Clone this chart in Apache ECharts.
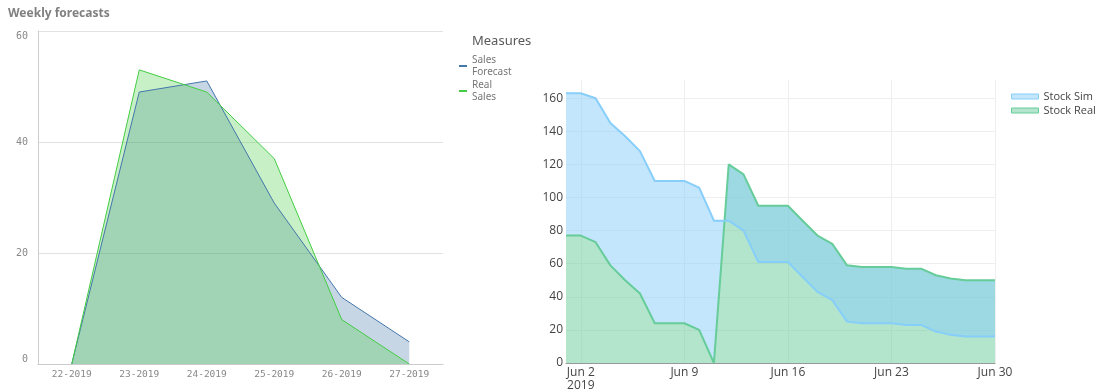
<!DOCTYPE html>
<html>
<head>
<meta charset="utf-8">
<script src="https://cdn.jsdelivr.net/npm/echarts@6/dist/echarts.min.js"></script>
<style>
html,body{margin:0;padding:0;background:#fff;}
#chart{width:1099px;height:392px;}
</style>
</head>
<body>
<div id="chart"></div>
<script>
// ---- Left chart data ----
const weeks = ['22-2019', '23-2019', '24-2019', '25-2019', '26-2019', '27-2019'];
const salesForecast = [0, 49, 51, 29, 12, 4];
const realSales = [0, 53, 49, 37, 8, 0];

// ---- Right chart data ----
const days = ['Jun 1','Jun 2','Jun 3','Jun 4','Jun 5','Jun 6','Jun 7','Jun 8','Jun 9','Jun 10',
  'Jun 11','Jun 12','Jun 13','Jun 14','Jun 15','Jun 16','Jun 17','Jun 18','Jun 19','Jun 20',
  'Jun 21','Jun 22','Jun 23','Jun 24','Jun 25','Jun 26','Jun 27','Jun 28','Jun 29','Jun 30'];
const stockSim = [163, 163, 160, 145, 137, 128, 110, 110, 110, 106, 86, 86, 80, 61, 61, 61, 52, 43, 38, 25,
  24, 24, 24, 23, 23, 19, 17, 16, 16, 16];
const stockReal = [77, 77, 73, 59, 50, 42, 24, 24, 24, 20, 0, 120, 114, 95, 95, 95, 86, 77, 72, 59,
  58, 58, 58, 57, 57, 53, 51, 50, 50, 50];
const yearLabel = '2019';

const chart = echarts.init(document.getElementById('chart'), null, {renderer: 'canvas'});
const mono = 'DejaVu Sans Mono';
const dayTick = (idx) => (idx - 1) % 7 === 0;

// Sim is drawn as a band between the Real line and the Sim line (stacked on Real)
const simBand = stockSim.map((v, i) => v - stockReal[i]);

const option = {
  animation: false,
  title: [
    {text: 'Weekly forecasts', left: 3, top: 3,
     textStyle: {fontSize: 12, fontWeight: 'bold', color: '#808080', fontFamily: 'Noto Sans'}},
    {text: 'Measures', left: 467, top: 30,
     textStyle: {fontSize: 13, fontWeight: 'normal', color: '#595959', fontFamily: 'Noto Sans'}}
  ],
  legend: [
    {
      data: ['Sales Forecast', 'Real Sales'],
      left: 454, top: 49, orient: 'vertical',
      icon: 'rect', itemWidth: 8, itemHeight: 2, itemGap: 1,
      formatter: (n) => n.replace(' ', '\n'),
      textStyle: {fontSize: 10, color: '#777', lineHeight: 12, fontFamily: 'Noto Sans'}
    },
    {
      data: [
        {name: 'Stock Sim', itemStyle: {color: '#c3e6fc', borderColor: '#87cefa', borderWidth: 1}},
        {name: 'Stock Real', itemStyle: {color: '#b2e5cc', borderColor: '#66cc99', borderWidth: 1}}
      ],
      left: 1006, top: 86, orient: 'vertical',
      icon: 'rect', itemWidth: 27, itemHeight: 5, itemGap: 3,
      textStyle: {fontSize: 11, color: '#444', fontFamily: 'Open Sans'}
    }
  ],
  grid: [
    {left: 38, top: 31, width: 405, height: 333},
    {left: 566, top: 80, width: 429, height: 283}
  ],
  xAxis: [
    {
      type: 'category', gridIndex: 0, data: weeks, boundaryGap: true,
      axisLine: {lineStyle: {color: '#cccccc'}},
      axisTick: {show: false},
      axisLabel: {color: '#888', fontFamily: mono, fontSize: 9.5, margin: 6}
    },
    {
      type: 'category', gridIndex: 1, data: days, boundaryGap: false,
      axisLine: {lineStyle: {color: '#999'}},
      axisTick: {show: false},
      axisLabel: {
        interval: dayTick, color: '#444', fontFamily: 'Open Sans', fontSize: 12, margin: 3, lineHeight: 13,
        formatter: (v, idx) => idx === 1 ? v + '\n' + yearLabel : v
      },
      splitLine: {show: true, interval: dayTick, lineStyle: {color: '#eeeeee'}}
    }
  ],
  yAxis: [
    {
      type: 'value', gridIndex: 0, min: 0, max: 60, interval: 20,
      axisLine: {show: true, lineStyle: {color: '#cccccc'}},
      axisTick: {show: false},
      splitLine: {lineStyle: {color: '#e2e2e2'}},
      axisLabel: {color: '#888', fontFamily: mono, fontSize: 10, margin: 10,
        verticalAlignMaxLabel: 'top', verticalAlignMinLabel: 'bottom'}
    },
    {
      type: 'value', gridIndex: 1, min: 0, max: 171, interval: 20,
      axisLine: {show: false}, axisTick: {show: false},
      splitLine: {lineStyle: {color: '#eeeeee'}, showMaxLine: false},
      axisLabel: {color: '#444', fontFamily: 'Open Sans', fontSize: 12, margin: 3,
        formatter: (v) => (v % 20 === 0 ? String(v) : '')}
    }
  ],
  series: [
    {
      name: 'Sales Forecast', type: 'line', xAxisIndex: 0, yAxisIndex: 0, data: salesForecast,
      symbol: 'none', color: '#4477aa',
      lineStyle: {color: '#4477aa', width: 1},
      areaStyle: {color: '#4477aa', opacity: 0.3}
    },
    {
      name: 'Real Sales', type: 'line', xAxisIndex: 0, yAxisIndex: 0, data: realSales,
      symbol: 'none', color: '#44cc44',
      lineStyle: {color: '#44cc44', width: 1},
      areaStyle: {color: '#44cc44', opacity: 0.3}
    },
    {
      name: 'Stock Real', type: 'line', xAxisIndex: 1, yAxisIndex: 1, data: stockReal,
      stack: 'stock', stackStrategy: 'all',
      symbol: 'none', color: '#66cc99',
      lineStyle: {color: '#66cc99', width: 2},
      areaStyle: {color: '#66cc99', opacity: 0.5}
    },
    {
      name: 'Stock Sim', type: 'line', xAxisIndex: 1, yAxisIndex: 1, data: simBand,
      stack: 'stock', stackStrategy: 'all',
      symbol: 'none', color: '#87cefa',
      lineStyle: {color: '#87cefa', width: 2},
      areaStyle: {color: '#87cefa', opacity: 0.5}
    }
  ]
};
chart.setOption(option);
</script>
</body>
</html>
